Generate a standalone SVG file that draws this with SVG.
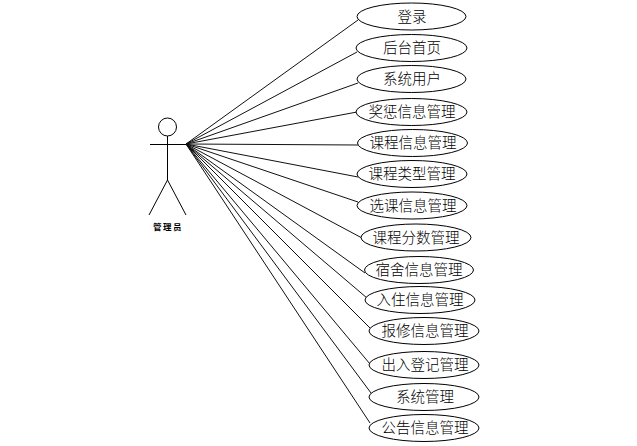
<svg xmlns="http://www.w3.org/2000/svg" width="637" height="446" viewBox="0 0 637 446">
<style>
.l{fill:none;stroke:#000;stroke-width:1}
.c{stroke:#111;stroke-width:1;fill:none}
.e{fill:#fff;stroke:#000;stroke-width:1}
text{font-family:"Noto Sans CJK SC","Noto Sans CJK JP",sans-serif;font-size:14.500px;font-weight:300;text-anchor:middle;fill:#000}
.s{font-size:8.500px;font-weight:700;letter-spacing:1.500px}
</style>
<rect width="637" height="446" fill="#fff"/>
<g id="connectors">
<path class="c" d="M186 144L358 20"/>
<path class="c" d="M186 144L357 52"/>
<path class="c" d="M186 144L358 83"/>
<path class="c" d="M186 144L357 112"/>
<path class="c" d="M186 144L358 145"/>
<path class="c" d="M186 144L358 177"/>
<path class="c" d="M186 144L358 202"/>
<path class="c" d="M186 144L362 238"/>
<path class="c" d="M186 144L365 273"/>
<path class="c" d="M186 144L367 298"/>
<path class="c" d="M186 144L370 328"/>
<path class="c" d="M186 144L370 364"/>
<path class="c" d="M186 144L371 393"/>
<path class="c" d="M186 144L370 423"/>
</g>
<g id="actor">
<circle class="l" cx="167.500" cy="127" r="9"/>
<path class="l" d="M167.500 136V180M150 144.500H186M167.500 180L149 215M167.500 180L186 215"/>
<text class="s" x="168" y="230">管理员</text>
</g>
<g id="n1"><ellipse class="e" cx="411.500" cy="16.500" rx="54.500" ry="13.500"/><text x="412" y="22">登录</text></g>
<g id="n2"><ellipse class="e" cx="411.500" cy="48" rx="55.500" ry="13.500"/><text x="412" y="53">后台首页</text></g>
<g id="n3"><ellipse class="e" cx="411.500" cy="79" rx="54.500" ry="13.500"/><text x="412" y="84">系统用户</text></g>
<g id="n4"><ellipse class="e" cx="411.500" cy="112" rx="55.500" ry="13.500"/><text x="412" y="117">奖惩信息管理</text></g>
<g id="n5"><ellipse class="e" cx="412.500" cy="143" rx="55" ry="13.500"/><text x="413" y="148">课程信息管理</text></g>
<g id="n6"><ellipse class="e" cx="412" cy="174" rx="55" ry="13.500"/><text x="412" y="179">课程类型管理</text></g>
<g id="n7"><ellipse class="e" cx="412" cy="205.500" rx="55" ry="13.500"/><text x="413" y="211">选课信息管理</text></g>
<g id="n8"><ellipse class="e" cx="416" cy="237.500" rx="55" ry="13.500"/><text x="416" y="243">课程分数管理</text></g>
<g id="n9"><ellipse class="e" cx="419" cy="270" rx="54.500" ry="13.500"/><text x="419" y="275">宿舍信息管理</text></g>
<g id="n10"><ellipse class="e" cx="420" cy="300" rx="55" ry="13.500"/><text x="420" y="305">入住信息管理</text></g>
<g id="n11"><ellipse class="e" cx="424" cy="331" rx="55" ry="13.500"/><text x="425" y="336">报修信息管理</text></g>
<g id="n12"><ellipse class="e" cx="424" cy="365" rx="55" ry="13.500"/><text x="425" y="370">出入登记管理</text></g>
<g id="n13"><ellipse class="e" cx="424" cy="397" rx="55" ry="13.500"/><text x="425" y="402">系统管理</text></g>
<g id="n14"><ellipse class="e" cx="424" cy="428" rx="55" ry="13.500"/><text x="425" y="433">公告信息管理</text></g>
</svg>
